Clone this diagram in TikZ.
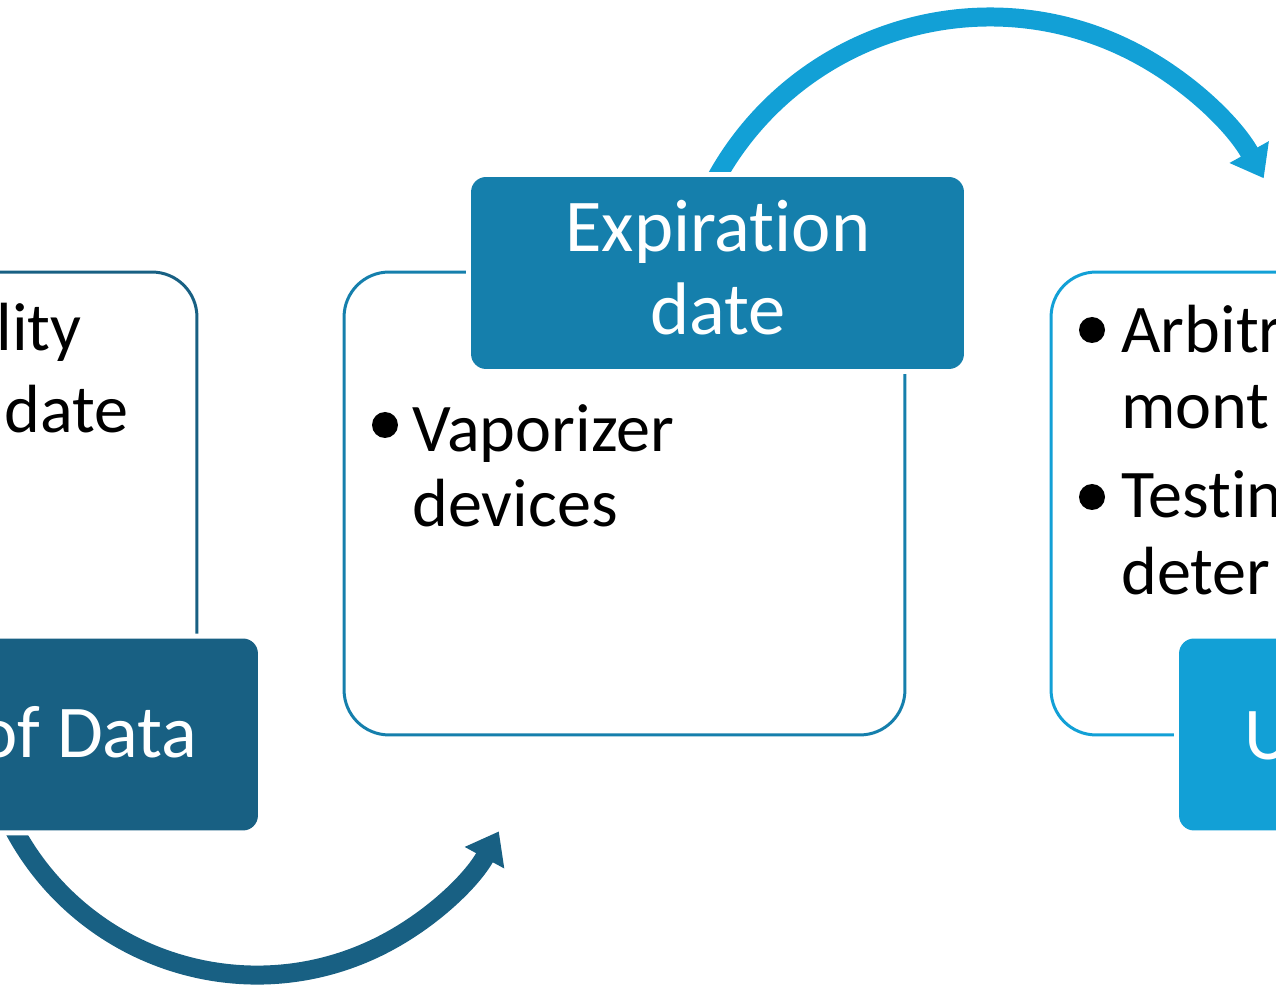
\documentclass[tikz,border=0pt]{standalone}
\usepackage{fontspec}
\setmainfont{Carlito}[Ligatures=NoCommon]
\usetikzlibrary{arrows.meta}
\definecolor{darkblue}{RGB}{24,96,131}
\definecolor{midblue}{RGB}{21,127,172}
\definecolor{lightblue}{RGB}{18,160,214}

\begin{document}
\begin{tikzpicture}[x=0.02cm, y=0.02cm,
    every node/.style={inner sep=0pt, font=\fontsize{38.8}{42}\selectfont},
    textbox/.style={draw, line width=0.06cm, rounded corners=0.9cm, minimum width=11.22cm, minimum height=9.26cm},
    titlebox/.style={rounded corners=0.3cm, minimum width=9.86cm, minimum height=3.84cm, preaction={draw=white, line width=0.2cm}},
    titletext/.style={text=white, font=\fontsize{42.4}{47}\selectfont},
    dot/.style={circle, fill=black, minimum size=0.52cm},
    cycle/.style={line width=0.38cm, -{Triangle[length=0.6cm, width=0.86cm]}}]
  \useasboundingbox (0,0) rectangle (1276,988);
  \clip (0,0) rectangle (1276,988);

  % Pfeile (Anfang liegt unter den Titelboxen)
  \coordinate (topstart) at (713.6,804.9);
  \coordinate (botstart) at (11.5,163.4);
  \draw[cycle, lightblue] (topstart) arc[start angle=152, end angle=29, radius=313];
  \draw[cycle, darkblue] (botstart) arc[start angle=207, end angle=331.4, radius=275.5];

  % Textboxen
  \node[textbox, darkblue] (leftbox) at (-83.5,484.5) {};
  \node[textbox, midblue] (midbox) at (624.5,484.5) {};
  \node[textbox, lightblue] (rightbox) at (1331.5,484.5) {};

  % Titelboxen
  \node[titlebox, fill=darkblue] (lefttitle) at (11.5,253.5) {};
  \node[titlebox, fill=midblue] (midtitle) at (717.5,715) {};
  \node[titlebox, fill=lightblue] (righttitle) at (1425.5,253.5) {};

  % Titel
  \node[titletext, anchor=base east] (lefthead) at (198,230) {of Data};
  \node[titletext, anchor=base] (midhead1) at (718,736) {Expiration};
  \node[titletext, anchor=base] (midhead2) at (718,653) {date};
  \node[titletext, anchor=base west] (righthead) at (1244,228) {U};

  % linke Box
  \node[anchor=base east] (leftline1) at (82,637) {lity};
  \node[anchor=base east] (leftline2) at (129,555) {date};

  % mittlere Box
  \node[dot] (middot) at (385,563) {};
  \node[anchor=base west] (midline1) at (412,536) {Vaporizer};
  \node[anchor=base west] (midline2) at (412,461) {devices};

  % rechte Box
  \node[dot] (rightdot1) at (1092,658) {};
  \node[dot] (rightdot2) at (1092,491) {};
  \node[anchor=base west] (rightline1) at (1121,635) {Arbitr};
  \node[anchor=base west] (rightline2) at (1121,559) {mont};
  \node[anchor=base west] (rightline3) at (1121,470) {Testin};
  \node[anchor=base west] (rightline4) at (1121,393) {deter};

\end{tikzpicture}
\end{document}
